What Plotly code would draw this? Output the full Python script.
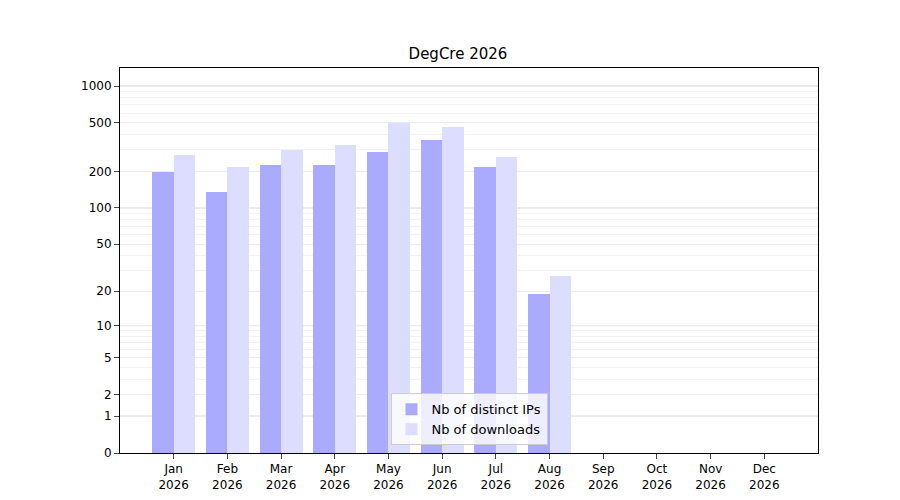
import numpy as np
import plotly.graph_objects as go

months = ["Jan","Feb","Mar","Apr","May","Jun","Jul","Aug","Sep","Oct","Nov","Dec"]
ips = [198, 135, 225, 225, 288, 361, 217, 19, 0, 0, 0, 0]
downloads = [272, 217, 300, 329, 498, 462, 262, 27, 0, 0, 0, 0]
ytick_vals = [0, 1, 2, 5, 10, 20, 50, 100, 200, 500, 1000]
decades = [1, 10, 100, 1000]

def f(v):
    return np.log10(1 + np.asarray(v, dtype=float))

x = np.arange(len(months))
minor = []
for dec in decades:
    for m in range(2, 10):
        v = dec * m
        if v <= 1400:
            minor.append(v)

fig = go.Figure()
fig.add_bar(x=x, y=f(ips), width=0.4, offset=-0.4, marker=dict(color="#aaaaff", line_width=0),
            name="Nb of distinct IPs")
fig.add_bar(x=x, y=f(downloads), width=0.4, offset=0, marker=dict(color="#ddddff", line_width=0),
            name="Nb of downloads")
for d in decades:
    fig.add_hline(y=float(f(d)), line=dict(color="#c8c8c8", width=1), layer="below")
fig.update_layout(
    width=900, height=500, barmode="overlay", plot_bgcolor="white", paper_bgcolor="white",
    font=dict(family="DejaVu Sans", size=12, color="black"),
    title=dict(text="DegCre 2026", x=0.5, xanchor="center", y=0.908, yanchor="middle", font=dict(size=15)),
    margin=dict(l=112, r=90, t=60, b=55, autoexpand=False),
    legend=dict(x=0.5, xanchor="center", y=0.02, yanchor="bottom", bordercolor="#cccccc", borderwidth=1,
                bgcolor="rgba(255,255,255,0.8)", font=dict(size=13)),
    bargap=0,
)
fig.update_xaxes(range=[-1, 12], tickvals=list(x), ticktext=[m + "<br>2026" for m in months],
                 showline=True, linecolor="black", mirror=True, ticks="outside", showgrid=False,
                 automargin=False)
fig.update_yaxes(range=[0, 3.148], tickvals=list(f(ytick_vals)), ticktext=[str(v) for v in ytick_vals],
                 showline=True, linecolor="black", mirror=True, ticks="outside", automargin=False,
                 showgrid=True, gridcolor="#ececec", zeroline=False,
                 minor=dict(tickvals=list(f(minor)), showgrid=True, gridcolor="#f2f2f2", ticks=""))
fig.write_html("out.html")
